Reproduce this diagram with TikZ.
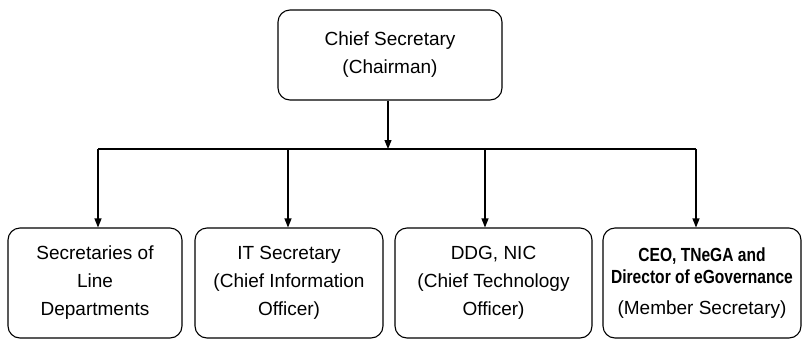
\documentclass[tikz,border=0pt]{standalone}
\usepackage{fontspec}
\setmainfont{Liberation Sans}
\newfontfamily\narrowfont[FakeStretch=0.82]{Liberation Sans}
\newcommand{\ceofont}{\narrowfont\bfseries\fontsize{19}{22}\selectfont}
\usetikzlibrary{arrows.meta}

\begin{document}
\begin{tikzpicture}
    [x=1pt,y=-1pt,line width=1.1pt,
     box/.style={draw,rounded corners=12pt,align=center,inner sep=0pt},
     link/.style={-{Triangle[length=9pt,width=7pt]}},
     font=\fontsize{19}{28}\selectfont]

    \useasboundingbox (0,0) rectangle (803,341);

    % chairman:
    \node (chief) at (390,55) [box,minimum width=224pt,minimum height=90pt]
      {Chief Secretary\\(Chairman)};

    % members:
    \node (lined) at (95,283) [box,minimum width=174pt,minimum height=110pt]
      {Secretaries of\\Line\\Departments};
    \node (itsec) at (289,283) [box,minimum width=188pt,minimum height=110pt]
      {IT Secretary\\(Chief Information\\Officer)};
    \node (ddg) at (493.5,283) [box,minimum width=197pt,minimum height=110pt]
      {DDG, NIC\\(Chief Technology\\Officer)};
    \node (ceo) at (702,283) [box,minimum width=198pt,minimum height=110pt]
      {{\ceofont CEO, TNeGA and}\\[-6pt]{\ceofont Director of eGovernance}\\[3pt](Member Secretary)};

    % branch points:
    \coordinate (top) at (388,149);
    \coordinate (br1) at (98,149);
    \coordinate (br2) at (288,149);
    \coordinate (br3) at (485,149);
    \coordinate (br4) at (696,149);

    % connect nodes:
    \draw [link] (chief.south -| top) to (top);
    \draw (br1) to (br4);
    \draw [link] (br1) to (br1 |- lined.north);
    \draw [link] (br2) to (br2 |- itsec.north);
    \draw [link] (br3) to (br3 |- ddg.north);
    \draw [link] (br4) to (br4 |- ceo.north);

  \end{tikzpicture}
\end{document}
